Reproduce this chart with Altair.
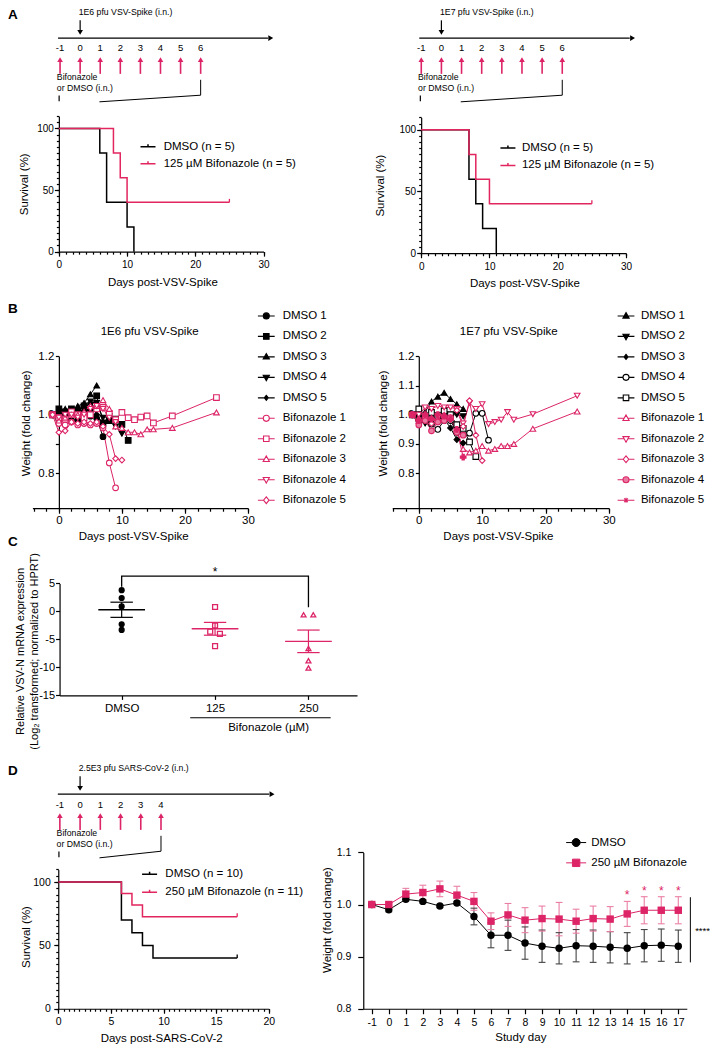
import math
import altair as alt
import pandas as pd

FONT = "Liberation Sans, Arial, Helvetica, sans-serif"
BLACK = "#000000"
PINK = "#dc2467"
RED = "#e2265f"
PINK_BAR = "#ea7fa4"
PINK_FILL = "#e9799f"
GREY = "#444444"
W, H = 702, 1036
SX = 702 / 708.0
SY = 1036 / 1049.0

# ------------------------------------------------------------------ DATA
# Panel A: Kaplan-Meier survival (1E6 left, 1E7 right)
A_GROUPS = ["DMSO (n = 5)", "125 µM Bifonazole (n = 5)"]
a1_dmso_day = [0, 6, 7, 10, 11]
a1_dmso_surv = [100, 80, 40, 20, 0]
a1_bif_day = [0, 8, 9, 10, 25]
a1_bif_surv = [100, 80, 60, 40, 40]
a2_dmso_day = [0, 7, 8, 9, 11]
a2_dmso_surv = [100, 60, 40, 20, 0]
a2_bif_day = [0, 7, 8, 10, 25]
a2_bif_surv = [100, 80, 60, 40, 40]

# treatment schedules (days of intranasal dosing)
tl_a_days = [-1, 0, 1, 2, 3, 4, 5, 6]
tl_d_days = [-1, 0, 1, 2, 3, 4]

# Panel B: individual weight curves
B_NAMES = ["DMSO 1", "DMSO 2", "DMSO 3", "DMSO 4", "DMSO 5",
           "Bifonazole 1", "Bifonazole 2", "Bifonazole 3", "Bifonazole 4", "Bifonazole 5"]
LONG_DAYS = [-1, 0, 1, 2, 3, 4, 5, 6, 7, 8, 9, 10, 11, 12, 13, 14, 15, 18, 25]
b1_data = {
    "DMSO 1": ([-1, 0, 1, 2, 3, 4, 5, 6, 7],
               [1.0, 0.983, 0.99, 0.98, 0.982, 1.01, 0.995, 0.988, 0.925]),
    "DMSO 2": ([-1, 0, 1, 2, 3, 4, 5, 6, 7, 8, 9, 10, 11],
               [1.0, 1.02, 1.01, 1.02, 1.01, 1.03, 1.02, 1.065, 0.972, 0.98, 0.985, 0.967, 0.912]),
    "DMSO 3": ([-1, 0, 1, 2, 3, 4, 5, 6],
               [1.0, 1.01, 1.02, 1.015, 1.03, 1.04, 1.07, 1.1]),
    "DMSO 4": ([-1, 0, 1, 2, 3, 4, 5, 6, 7, 8, 9, 10],
               [1.0, 1.0, 0.995, 1.0, 1.0, 1.02, 1.045, 1.04, 0.99, 0.995, 0.96, 0.935]),
    "DMSO 5": ([-1, 0, 1, 2, 3, 4, 5, 6, 7],
               [1.0, 1.005, 1.01, 1.005, 1.02, 1.025, 1.04, 1.0, 0.97]),
    "Bifonazole 1": ([-1, 0, 1, 2, 3, 4, 5, 6, 7, 8, 9],
                     [1.0, 0.97, 0.965, 0.975, 0.965, 0.97, 0.965, 0.97, 0.955, 0.835, 0.75]),
    "Bifonazole 2": (LONG_DAYS,
                     [1.0, 0.99, 0.985, 1.01, 1.0, 0.99, 1.0, 1.02, 1.025, 1.005, 0.983, 1.008,
                      0.99, 0.983, 0.992, 0.996, 0.972, 0.996, 1.059]),
    "Bifonazole 3": (LONG_DAYS,
                     [1.0, 0.98, 0.99, 1.0, 1.0, 1.01, 1.03, 1.03, 1.05, 1.02, 0.96, 0.955,
                      0.94, 0.94, 0.933, 0.95, 0.95, 0.955, 1.008]),
    "Bifonazole 4": ([-1, 0, 1, 2, 3, 4, 5, 6, 7, 8, 9],
                     [1.0, 0.99, 1.0, 1.0, 0.99, 1.0, 1.02, 1.03, 1.02, 0.99, 0.975]),
    "Bifonazole 5": ([-1, 0, 1, 2, 3, 4, 5, 6, 7, 8, 9, 10],
                     [1.0, 0.94, 0.945, 0.975, 0.97, 0.975, 0.97, 0.975, 0.96, 0.933, 0.85, 0.845]),
}
b2_data = {
    "DMSO 1": ([-1, 0, 1, 2, 3, 4, 5, 6, 7],
               [1.0, 1.0, 1.01, 1.045, 1.062, 1.075, 1.054, 1.036, 1.02]),
    "DMSO 2": ([-1, 0, 1, 2, 3, 4, 5, 6, 7],
               [1.0, 0.99, 0.97, 0.995, 0.995, 1.0, 1.0, 1.0, 0.995]),
    "DMSO 3": ([-1, 0, 1, 2, 3, 4, 5, 6, 7],
               [1.0, 0.98, 0.975, 0.97, 0.99, 0.985, 0.955, 0.915, 0.903]),
    "DMSO 4": ([-1, 0, 1, 2, 3, 4, 5, 6, 7, 8, 9, 10, 11],
               [1.0, 0.98, 0.98, 0.968, 0.95, 0.98, 0.98, 0.94, 0.94, 0.937, 1.005, 1.005, 0.913]),
    "DMSO 5": ([-1, 0, 1, 2, 3, 4, 5, 6, 7, 8, 9],
               [1.0, 1.02, 0.983, 1.008, 0.997, 1.013, 1.0, 0.966, 0.953, 0.907, 0.857]),
    "Bifonazole 1": (LONG_DAYS,
                     [1.0, 0.99, 1.0, 0.99, 0.99, 1.0, 0.99, 0.95, 0.883, 0.871, 0.877, 0.893,
                      0.877, 0.883, 0.893, 0.893, 0.9, 0.952, 1.011]),
    "Bifonazole 2": (LONG_DAYS,
                     [1.0, 1.0, 1.025, 1.02, 1.03, 1.025, 1.025, 1.02, 0.97, 1.04, 1.02, 1.036,
                      0.968, 0.975, 0.983, 1.009, 0.983, 1.002, 1.065]),
    "Bifonazole 3": ([-1, 0, 1, 2, 3, 4, 5, 6, 7, 8, 9, 10],
                     [1.0, 0.97, 0.99, 0.97, 0.98, 0.98, 0.985, 1.015, 0.96, 1.048, 0.93, 0.843]),
    "Bifonazole 4": ([-1, 0, 1, 2, 3, 4, 5, 6, 7],
                     [1.0, 0.965, 0.98, 0.945, 0.975, 0.98, 0.99, 0.94, 0.93]),
    "Bifonazole 5": ([-1, 0, 1, 2, 3, 4, 5, 6, 7],
                     [1.0, 0.98, 1.0, 0.985, 1.0, 0.995, 0.985, 0.95, 0.855]),
}

# Panel C: relative VSV-N mRNA (log2)
c_groups = ["DMSO", "125", "250"]
c_dmso = [3.8, 2.4, 0.9, -2.3, -3.3]
c_125 = [0.8, -2.5, -3.6, -4.0, -6.2]
c_250 = [-0.6, -0.6, -6.6, -8.8, -10.1]
c_dmso_slot = [0, 0, 0, 0, 0]
c_125_slot = [0, 0, -1, 1, 0]
c_250_slot = [-1, 1, 0, 0, 0]

# Panel D: SARS-CoV-2 survival and mean weight
D_GROUPS = ["DMSO (n = 10)", "250 µM Bifonazole (n = 11)"]
d_dmso_day = [0, 6, 7, 8, 9, 17]
d_dmso_surv = [100, 70, 60, 50, 40, 40]
d_bif_day = [0, 6, 7, 8, 17]
d_bif_surv = [100, 90.9, 81.8, 72.7, 72.7]

DW_GROUPS = ["DMSO", "250 µM Bifonazole"]
dw_days = [-1, 0, 1, 2, 3, 4, 5, 6, 7, 8, 9, 10, 11, 12, 13, 14, 15, 16, 17]
dw_dmso_mean = [1.000, 0.990, 1.010, 1.006, 0.997, 1.003, 0.977, 0.941, 0.941, 0.926,
                0.920, 0.916, 0.921, 0.920, 0.918, 0.916, 0.921, 0.922, 0.920]
dw_dmso_err = [0.001, 0.004, 0.003, 0.003, 0.003, 0.003, 0.016, 0.024, 0.029, 0.031,
               0.031, 0.030, 0.031, 0.031, 0.030, 0.030, 0.031, 0.031, 0.031]
dw_bif_mean = [1.000, 1.000, 1.020, 1.023, 1.030, 1.018, 1.006, 0.968, 0.980, 0.970,
               0.973, 0.972, 0.968, 0.973, 0.972, 0.982, 0.989, 0.989, 0.989]
dw_bif_err = [0.002, 0.003, 0.011, 0.014, 0.015, 0.017, 0.017, 0.016, 0.022, 0.024,
              0.024, 0.032, 0.023, 0.024, 0.024, 0.024, 0.026, 0.026, 0.026]
dw_star_days = [14, 15, 16, 17]

PANEL_LETTERS = ["A", "B", "C", "D"]


# ------------------------------------------------------------------ HELPERS
def PX(v):
    return (v - 8) * SX


def PY(v):
    return (v - 4) * SY


def xscale(d0, d1, p0, p1):
    return alt.Scale(domain=[d0, d1], range=[PX(p0), PX(p1)], nice=False, zero=False)


def yscale(d0, d1, p0, p1):
    return alt.Scale(domain=[d0, d1], range=[PY(p0), PY(p1)], nice=False, zero=False)


AX = dict(grid=False, labelFont=FONT, titleFont=FONT, labelColor=BLACK, titleColor=BLACK,
          tickColor=BLACK, domainColor=BLACK, domainWidth=1.2, tickWidth=1.2,
          labelFlush=False, labelOverlap=False, labelBound=False,
          titleFontWeight="normal", titleFontSize=11.5)

MINUS = "datum.value < 0 ? '-' + (-datum.value) : '' + datum.value"


def bottom_axis(y_page, values, tick=4.0, labels=True, domain=True, font=10.5, pad=3.0,
                title=None, tx=None, ty=None, expr=None, fmt=None):
    kw = dict(AX)
    kw.update(orient="bottom", offset=PY(y_page) - H, values=values, tickSize=tick,
              labels=labels, domain=domain, labelFontSize=font, labelPadding=pad, title=title)
    if expr is not None:
        kw["labelExpr"] = expr
    if fmt is not None:
        kw["format"] = fmt
    if title is not None:
        kw.update(titleX=PX(tx), titleY=PY(ty) - PY(y_page), titleAlign="center",
                  titleBaseline="middle", titleAngle=0)
    return alt.Axis(**kw)


def left_axis(x_page, values, tick=4.0, labels=True, domain=True, font=10.5, pad=1.5,
              title=None, tx=None, ty=None, expr=None, fmt=None, line_height=None,
              title_font=11.5):
    kw = dict(AX)
    kw.update(orient="left", offset=-PX(x_page), values=values, tickSize=tick,
              labels=labels, domain=domain, labelFontSize=font, labelPadding=pad, title=title,
              titleFontSize=title_font)
    if expr is not None:
        kw["labelExpr"] = expr
    if fmt is not None:
        kw["format"] = fmt
    if title is not None:
        kw.update(titleX=PX(tx) - PX(x_page), titleY=PY(ty), titleAlign="center",
                  titleBaseline="middle", titleAngle=270)
        if line_height is not None:
            kw["titleLineHeight"] = line_height
    return alt.Axis(**kw)


def ghost(xsc, ysc, x0, y0, xaxis=None, yaxis=None):
    df = pd.DataFrame({"gx": [x0], "gy": [y0]})
    return alt.Chart(df).mark_point(opacity=0).encode(
        x=alt.X("gx:Q", scale=xsc, axis=xaxis), y=alt.Y("gy:Q", scale=ysc, axis=yaxis))


def make_legend(center_x, c0, pitch, size, sw, label_x, symbol_type=None, font=11.5,
                dy=0.0, dp=0.0):
    S = max(math.ceil(math.sqrt(size) + sw), font)
    lx = PX(center_x) - S / 2.0
    ly = PY(c0) - S / 2.0 - 4.7 + dy
    rp = pitch * SY - S / 2.0 - 5.75 + dp
    kw = dict(title=None, orient="none", legendX=lx, legendY=ly, direction="vertical",
              symbolSize=size, symbolStrokeWidth=sw, symbolOpacity=1, labelFont=FONT,
              labelFontSize=font, labelColor=BLACK, labelOffset=PX(label_x) - lx - S,
              rowPadding=rp, padding=0, offset=0, labelLimit=600)
    if symbol_type is not None:
        kw["symbolType"] = symbol_type
    return alt.Legend(**kw)


# legend glyphs: a line with the marker in its middle (unit square, y down)
G_CIRCLE = "M-1,0H-0.36M0.36,0H1M-0.36,0A0.36,0.36,0,1,0,0.36,0A0.36,0.36,0,1,0,-0.36,0Z"
G_SQUARE = "M-1,0H-0.33M0.33,0H1M-0.33,-0.33H0.33V0.33H-0.33Z"
G_TUP = "M-1,0H-0.22M0.22,0H1M0,-0.4L0.37,0.26L-0.37,0.26Z"
G_TDOWN = "M-1,0H-0.22M0.22,0H1M0,0.4L0.37,-0.26L-0.37,-0.26Z"
G_DIAMOND = "M-1,0H-0.33M0.33,0H1M0,-0.4L0.33,0L0,0.4L-0.33,0Z"
G_SDIAMOND = "M-1,0H-0.24M0.24,0H1M0,-0.3L0.24,0L0,0.3L-0.24,0Z"
G_STAR = "M-1,0H1M0,-0.3V0.3M-0.22,-0.22L0.22,0.22M0.22,-0.22L-0.22,0.22"
G_CIRCLE_D = "M-1,0H-0.4M0.4,0H1M-0.4,0A0.4,0.4,0,1,0,0.4,0A0.4,0.4,0,1,0,-0.4,0Z"
G_SQUARE_D = "M-1,0H-0.37M0.37,0H1M-0.37,-0.37H0.37V0.37H-0.37Z"
G_KM = "M-1,0H1M0,0V-0.33"


# ------------------------------------------------------------------ SCHEMATIC
def schematic(days, p_lo, p_hi, top, infect_text, infect_y):
    end = days[-1]
    n = len(days)
    xsc = xscale(-1, end, p_lo, p_hi)
    ysc = yscale(0, 100, top, top + 100)

    def X(f):
        return alt.X(f, type="quantitative", scale=xsc, axis=None)

    def Y(f):
        return alt.Y(f, type="quantitative", scale=ysc, axis=None)

    out = []
    base = pd.DataFrame({"x": [-1.1], "x2": [9.35], "y": [34.5]})
    out.append(alt.Chart(base).mark_rule(color=BLACK, strokeWidth=1.3).encode(
        x=X("x"), x2=alt.X2("x2"), y=Y("y")))
    heads = pd.DataFrame({"x": [9.49, 0.0] + days,
                          "y": [34.5, 28.7] + [56.3] * n,
                          "shape": ["triangle-right", "triangle-down"] + ["triangle-up"] * n,
                          "c": [BLACK, BLACK] + [PINK] * n})
    out.append(alt.Chart(heads).mark_point(filled=True, size=32, opacity=1).encode(
        x=X("x"), y=Y("y"), shape=alt.Shape("shape:N", scale=None),
        color=alt.Color("c:N", scale=None)))
    shafts = pd.DataFrame({"x": [0.0] + days + [-1.046],
                           "y": [16.5] + [70.7] * n + [92.7],
                           "y2": [27.5] + [58.3] * n + [98.3],
                           "c": [BLACK] + [PINK] * n + [BLACK],
                           "w": [1.2] + [1.6] * n + [1.2]})
    out.append(alt.Chart(shafts).mark_rule().encode(
        x=X("x"), y=Y("y"), y2=alt.Y2("y2"), color=alt.Color("c:N", scale=None),
        strokeWidth=alt.StrokeWidth("w:Q", scale=None)))
    bracket = pd.DataFrame({"x": [0.96, end, end], "y": [99.0, 92.3, 76.7], "o": [0, 1, 2]})
    out.append(alt.Chart(bracket).mark_line(color=BLACK, strokeWidth=1.0).encode(
        x=X("x"), y=Y("y"), order=alt.Order("o:Q")))
    nums = pd.DataFrame({"x": days, "y": [45.0] * n, "t": [str(d) for d in days]})
    out.append(alt.Chart(nums).mark_text(font=FONT, fontSize=9.5, color=BLACK, align="center",
                                         baseline="middle").encode(x=X("x"), y=Y("y"), text="t:N"))
    labs = pd.DataFrame({"x": [-0.07, -1.16, -1.16], "y": [infect_y, 74.0, 85.0],
                         "t": [infect_text, "Bifonazole", "or DMSO (i.n.)"]})
    out.append(alt.Chart(labs).mark_text(font=FONT, fontSize=8.7, color=BLACK, align="left",
                                         baseline="middle").encode(x=X("x"), y=Y("y"), text="t:N"))
    return out


# ------------------------------------------------------------------ SURVIVAL
CENSOR = "M0,0L0,-1"


def survival(groups, series, colors, xd, xr, yr, ax_y, ax_x, x_major, x_minor, y_minor,
             tick_font, xpad, ypad, xt, yt, xtitle, leg):
    xsc = xscale(xd[0], xd[1], xr[0], xr[1])
    ysc = yscale(0, 110, yr[0], yr[1])
    rows = []
    for g, (days, surv) in zip(groups, series):
        for d, s in zip(days, surv):
            rows.append({"group": g, "day": d, "surv": s})
    df = pd.DataFrame(rows)
    last = df.groupby("group", sort=False).tail(1)
    cens = last[last["surv"] > 0]
    cscale = alt.Scale(domain=groups, range=colors)
    out = [
        ghost(xsc, ysc, xd[0], 0,
              xaxis=bottom_axis(ax_y, x_minor, tick=2.5, labels=False, domain=False)),
        ghost(xsc, ysc, xd[0], 0,
              yaxis=left_axis(ax_x, y_minor, tick=2.5, labels=False, domain=False)),
        alt.Chart(df).mark_line(interpolate="step-after", strokeWidth=1.5).encode(
            x=alt.X("day:Q", scale=xsc,
                    axis=bottom_axis(ax_y, x_major, tick=4.5, font=tick_font, pad=xpad,
                                     title=xtitle, tx=xt[0], ty=xt[1])),
            y=alt.Y("surv:Q", scale=ysc,
                    axis=left_axis(ax_x, [0, 50, 100], tick=4.5, font=tick_font, pad=ypad,
                                   title="Survival (%)", tx=yt[0], ty=yt[1])),
            color=alt.Color("group:N", scale=cscale, legend=leg)),
        alt.Chart(cens).mark_point(shape=CENSOR, size=49, strokeWidth=1.3, filled=False,
                                   opacity=1).encode(
            x=alt.X("day:Q", scale=xsc, axis=None), y=alt.Y("surv:Q", scale=ysc, axis=None),
            color=alt.Color("group:N", scale=cscale, legend=None)),
    ]
    return out


# ------------------------------------------------------------------ WEIGHT PANELS (B)
def weight_panel(names, data, shapes, glyphs, strokes, fills, xr, ax_x, ylabels, title,
                 title_pos, xt, yt, leg_cx, leg_lx):
    xsc = xscale(-4.2, 30, xr[0], xr[1])
    ysc = yscale(0.68, 1.2, 510.5, 356.7)
    rows = []
    for nme in names:
        days, vals = data[nme]
        for d, v in zip(days, vals):
            rows.append({"series": nme, "day": d, "w": v})
    df = pd.DataFrame(rows)
    cond = " || ".join("abs(datum.value - %s) < 0.0001" % v for v in ylabels)
    yexpr = "(%s) ? format(datum.value, '.1f') : ''" % cond
    xminor = list(range(-4, 31, 2))
    leg = make_legend(leg_cx, 316.0, 20.48, 282, 1.1, leg_lx, dy=4.5)
    leg_df = pd.DataFrame({"series": names, "day": [0] * len(names), "w": [1.0] * len(names)})
    out = [
        ghost(xsc, ysc, 0, 1.0, xaxis=bottom_axis(510.5, xminor, tick=3, labels=False,
                                                  domain=False)),
        alt.Chart(df).mark_line(strokeWidth=1.0).encode(
            x=alt.X("day:Q", scale=xsc,
                    axis=bottom_axis(510.5, [0, 10, 20, 30], tick=5, font=11.5, pad=1.5,
                                     title="Days post-VSV-Spike", tx=xt[0], ty=xt[1])),
            y=alt.Y("w:Q", scale=ysc,
                    axis=left_axis(ax_x, [0.8, 0.9, 1.0, 1.1, 1.2], tick=3.5, font=11.5,
                                   pad=1.5, title="Weight (fold change)", tx=yt[0], ty=yt[1],
                                   expr=yexpr)),
            color=alt.Color("series:N", scale=alt.Scale(domain=names, range=strokes),
                            legend=None)),
        alt.Chart(df).mark_point(filled=True, size=32, strokeWidth=1.1, opacity=1).encode(
            x=alt.X("day:Q", scale=xsc, axis=None), y=alt.Y("w:Q", scale=ysc, axis=None),
            shape=alt.Shape("series:N", scale=alt.Scale(domain=names, range=shapes), legend=None),
            stroke=alt.Stroke("series:N", scale=alt.Scale(domain=names, range=strokes),
                              legend=None),
            fill=alt.Fill("series:N", scale=alt.Scale(domain=names, range=fills), legend=None)),
        # legend carrier (invisible marks, visible legend)
        alt.Chart(leg_df).mark_point(filled=True, size=282, strokeWidth=1.1, opacity=0).encode(
            x=alt.X("day:Q", scale=xsc, axis=None), y=alt.Y("w:Q", scale=ysc, axis=None),
            shape=alt.Shape("series:N", scale=alt.Scale(domain=names, range=glyphs), legend=leg),
            stroke=alt.Stroke("series:N", scale=alt.Scale(domain=names, range=strokes),
                              legend=leg),
            fill=alt.Fill("series:N", scale=alt.Scale(domain=names, range=fills), legend=leg)),
        alt.Chart(pd.DataFrame({"x": [title_pos[0]], "y": [title_pos[1]], "t": [title]}))
        .mark_text(font=FONT, fontSize=11.5, color=BLACK, align="center", baseline="middle")
        .encode(x=alt.X("x:Q", scale=xsc, axis=None), y=alt.Y("y:Q", scale=ysc, axis=None),
                text="t:N"),
    ]
    return out


# ------------------------------------------------------------------ BUILD
layers = []

# Panel A
layers += schematic(tl_a_days, 60.5, 202.3, 0, "1E6 pfu VSV-Spike (i.n.)", 8.0)
layers += schematic(tl_a_days, 424.8, 567.0, 0, "1E7 pfu VSV-Spike (i.n.)", 8.0)
layers += survival(A_GROUPS, [(a1_dmso_day, a1_dmso_surv), (a1_bif_day, a1_bif_surv)],
                   [BLACK, RED], (0, 30), (59.3, 265.7), (250.7, 113.5), 250.7, 59.3,
                   [0, 10, 20, 30], list(range(0, 31)), list(range(0, 111, 5)),
                   10, 3.5, 1.0, (163.7, 282.0), (25.0, 182.0), "Days post-VSV-Spike",
                   make_legend(149.2, 142.7, 18.3, 225, 1.5, 165.0, G_KM, dy=6.5, dp=-0.9))
layers += survival(A_GROUPS, [(a2_dmso_day, a2_dmso_surv), (a2_bif_day, a2_bif_surv)],
                   [BLACK, RED], (0, 30), (424.7, 631.3), (252.3, 114.8), 252.3, 424.7,
                   [0, 10, 20, 30], list(range(0, 31)), list(range(0, 111, 5)),
                   10, 3.5, 1.0, (528.8, 283.3), (384.0, 183.3), "Days post-VSV-Spike",
                   make_legend(512.2, 144.0, 18.7, 225, 1.5, 526.3, G_KM, dy=6.5, dp=-0.9))

# Panel B
b1_shapes = ["circle", "square", "triangle-up", "triangle-down", "diamond",
             "circle", "square", "triangle-up", "triangle-down", "diamond"]
b1_glyphs = [G_CIRCLE, G_SQUARE, G_TUP, G_TDOWN, G_SDIAMOND,
             G_CIRCLE, G_SQUARE, G_TUP, G_TDOWN, G_DIAMOND]
b1_fills = [BLACK] * 5 + ["white"] * 5
b2_shapes = ["triangle-up", "triangle-down", "diamond", "circle", "square",
             "triangle-up", "triangle-down", "diamond", "circle", "cross"]
b2_glyphs = [G_TUP, G_TDOWN, G_SDIAMOND, G_CIRCLE, G_SQUARE,
             G_TUP, G_TDOWN, G_DIAMOND, G_CIRCLE, G_STAR]
b2_fills = [BLACK, BLACK, BLACK, "white", "white", "white", "white", "white", PINK_FILL, PINK]
b_strokes = [BLACK] * 5 + [PINK] * 5
layers += weight_panel(B_NAMES, b1_data, b1_shapes, b1_glyphs, b_strokes, b1_fills,
                       (32.6, 250.0), 59.3, [0.8, 1.0, 1.2], "1E6 pfu VSV-Spike",
                       (14.4, 1.2825), (134.2, 539.3), (26.7, 424.0), 268.5, 285.0)
layers += weight_panel(B_NAMES, b2_data, b2_shapes, b2_glyphs, b_strokes, b2_fills,
                       (395.5, 614.0), 422.3, [0.8, 0.9, 1.0, 1.1, 1.2], "1E7 pfu VSV-Spike",
                       (14.2, 1.2825), (502.0, 539.3), (386.3, 424.2), 631.3, 646.3)

# Panel C
c_rows = []
for i, (g, vals, slots) in enumerate(zip(c_groups, [c_dmso, c_125, c_250],
                                         [c_dmso_slot, c_125_slot, c_250_slot])):
    for v, s in zip(vals, slots):
        c_rows.append({"group": g, "idx": i, "value": v, "slot": s})
cdf = pd.DataFrame(c_rows)
cx = xscale(-0.665, 2.52, 60, 360)
cy = yscale(-15, 5, 700, 586.7)
c_col = alt.Scale(domain=c_groups, range=[BLACK, PINK, PINK])
c_expr = "[" + ",".join("'%s'" % g for g in c_groups) + "][datum.value]"
layers.append(
    alt.Chart(cdf).transform_calculate(xp="datum.idx + datum.slot * 0.052")
    .mark_point(filled=True, size=24, strokeWidth=1.3, opacity=1).encode(
        x=alt.X("xp:Q", scale=cx,
                axis=bottom_axis(700, [0, 1, 2], tick=4, font=11.5, pad=3.5, expr=c_expr)),
        y=alt.Y("value:Q", scale=cy,
                axis=left_axis(60, [-15, -10, -5, 0, 5], tick=4, font=11, pad=1.0,
                               expr=MINUS,
                               title=["Relative VSV-N mRNA expression",
                                      "(Log₂ transformed; normalized to HPRT)"],
                               tx=20.5, ty=655.0, line_height=14.5, title_font=11)),
        shape=alt.Shape("group:N", scale=alt.Scale(domain=c_groups,
                                                   range=["circle", "square", "triangle-up"]),
                        legend=None),
        stroke=alt.Stroke("group:N", scale=c_col, legend=None),
        fill=alt.Fill("group:N", scale=alt.Scale(domain=c_groups,
                                                 range=[BLACK, "white", "white"]), legend=None)))
c_stats = (alt.Chart(cdf)
           .transform_aggregate(m="mean(value)", s="stderr(value)", groupby=["group", "idx"])
           .transform_calculate(xl="datum.idx - 0.25", xr="datum.idx + 0.25",
                                cl="datum.idx - 0.12", cr="datum.idx + 0.12",
                                lo="datum.m - datum.s", hi="datum.m + datum.s"))
layers.append(c_stats.mark_rule(strokeWidth=1.4).encode(
    x=alt.X("xl:Q", scale=cx, axis=None), x2=alt.X2("xr"), y=alt.Y("m:Q", scale=cy, axis=None),
    color=alt.Color("group:N", scale=c_col, legend=None)))
layers.append(c_stats.mark_rule(strokeWidth=1.2).encode(
    x=alt.X("idx:Q", scale=cx, axis=None), y=alt.Y("lo:Q", scale=cy, axis=None),
    y2=alt.Y2("hi"), color=alt.Color("group:N", scale=c_col, legend=None)))
layers.append(c_stats.transform_fold(["lo", "hi"], as_=["which", "capy"]).mark_rule(
    strokeWidth=1.2).encode(
    x=alt.X("cl:Q", scale=cx, axis=None), x2=alt.X2("cr"),
    y=alt.Y("capy:Q", scale=cy, axis=None),
    color=alt.Color("group:N", scale=c_col, legend=None)))
c_bracket = pd.DataFrame({"x": [0, 0, 2, 2], "y": [4.4, 6.3, 6.3, 0.76], "o": [0, 1, 2, 3]})
layers.append(alt.Chart(c_bracket).mark_line(color=BLACK, strokeWidth=1.3).encode(
    x=alt.X("x:Q", scale=cx, axis=None), y=alt.Y("y:Q", scale=cy, axis=None),
    order=alt.Order("o:Q")))
layers.append(alt.Chart(pd.DataFrame({"x": [1.0], "y": [7.1], "t": ["*"]})).mark_text(
    font=FONT, fontSize=12, color=BLACK, align="center", baseline="middle").encode(
    x=alt.X("x:Q", scale=cx, axis=None), y=alt.Y("y:Q", scale=cy, axis=None), text="t:N"))
layers.append(alt.Chart(pd.DataFrame({"x": [0.734], "x2": [2.238], "y": [-19.0]})).mark_rule(
    color=BLACK, strokeWidth=1.0).encode(
    x=alt.X("x:Q", scale=cx, axis=None), x2=alt.X2("x2"), y=alt.Y("y:Q", scale=cy, axis=None)))
layers.append(alt.Chart(pd.DataFrame({"x": [1.573], "y": [-20.8], "t": ["Bifonazole (µM)"]}))
              .mark_text(font=FONT, fontSize=11.5, color=BLACK, align="center",
                         baseline="middle").encode(
    x=alt.X("x:Q", scale=cx, axis=None), y=alt.Y("y:Q", scale=cy, axis=None), text="t:N"))

# Panel D
layers += schematic(tl_d_days, 60.3, 162.3, 765.5, "2.5E3 pfu SARS-CoV-2 (i.n.)", 7.8)
layers += survival(D_GROUPS, [(d_dmso_day, d_dmso_surv), (d_bif_day, d_bif_surv)],
                   [BLACK, RED], (0, 20), (58.7, 271.0), (1017.3, 876.2), 1017.3, 58.7,
                   [0, 5, 10, 15, 20], [i * 0.5 for i in range(41)], list(range(0, 111, 5)),
                   10.5, 3.5, 3.5, (162.5, 1047.5), (26.7, 944.2), "Days post-SARS-CoV-2",
                   make_legend(150.8, 879.3, 18.4, 225, 1.5, 166.7, G_KM, dy=6.5))

dw_rows = []
for g, means, errs in zip(DW_GROUPS, [dw_dmso_mean, dw_bif_mean], [dw_dmso_err, dw_bif_err]):
    for d, m, e in zip(dw_days, means, errs):
        dw_rows.append({"group": g, "day": d, "mean": m, "err": e})
dwdf = pd.DataFrame(dw_rows)
dx = xscale(-1.5, 17.5, 366.3, 692.6)
dy = yscale(0.8, 1.1, 1017.3, 859.0)
err_col = alt.Scale(domain=DW_GROUPS, range=[GREY, PINK_BAR])
main_col = alt.Scale(domain=DW_GROUPS, range=[BLACK, PINK])
err_base = (alt.Chart(dwdf)
            .transform_calculate(lo="datum.mean - datum.err", hi="datum.mean + datum.err",
                                 xl="datum.day - 0.2", xr="datum.day + 0.2"))
layers.append(err_base.mark_rule(strokeWidth=1.1).encode(
    x=alt.X("day:Q", scale=dx, axis=None), y=alt.Y("lo:Q", scale=dy, axis=None), y2=alt.Y2("hi"),
    color=alt.Color("group:N", scale=err_col, legend=None)))
layers.append(err_base.transform_fold(["lo", "hi"], as_=["which", "capy"]).mark_rule(
    strokeWidth=1.1).encode(
    x=alt.X("xl:Q", scale=dx, axis=None), x2=alt.X2("xr"), y=alt.Y("capy:Q", scale=dy, axis=None),
    color=alt.Color("group:N", scale=err_col, legend=None)))
layers.append(alt.Chart(dwdf).mark_line(strokeWidth=1.0).encode(
    x=alt.X("day:Q", scale=dx,
            axis=bottom_axis(1017.3, dw_days, tick=5, font=10.5, pad=4, expr=MINUS,
                             title="Study day", tx=524.7, ty=1046.5)),
    y=alt.Y("mean:Q", scale=dy,
            axis=left_axis(366.3, [0.8, 0.9, 1.0, 1.1], tick=5.5, font=10.5, pad=7, fmt=".1f",
                           title="Weight (fold change)", tx=330.0, ty=927.0)),
    color=alt.Color("group:N", scale=main_col, legend=None)))
layers.append(alt.Chart(dwdf).mark_point(filled=True, size=55, opacity=1).encode(
    x=alt.X("day:Q", scale=dx, axis=None), y=alt.Y("mean:Q", scale=dy, axis=None),
    shape=alt.Shape("group:N", scale=alt.Scale(domain=DW_GROUPS, range=["circle", "square"]),
                    legend=None),
    color=alt.Color("group:N", scale=main_col, legend=None)))
dleg = make_legend(581.0, 846.7, 21.0, 400, 1.0, 596.3, dy=7.0, dp=-1.2)
dleg_df = pd.DataFrame({"group": DW_GROUPS, "day": [0, 0], "mean": [1.0, 1.0]})
layers.append(alt.Chart(dleg_df).mark_point(filled=True, size=400, strokeWidth=1.0,
                                            opacity=0).encode(
    x=alt.X("day:Q", scale=dx, axis=None), y=alt.Y("mean:Q", scale=dy, axis=None),
    shape=alt.Shape("group:N", scale=alt.Scale(domain=DW_GROUPS, range=[G_CIRCLE_D, G_SQUARE_D]),
                    legend=dleg),
    stroke=alt.Stroke("group:N", scale=main_col, legend=dleg),
    fill=alt.Fill("group:N", scale=main_col, legend=dleg)))
stars = dwdf[(dwdf["group"] == DW_GROUPS[1]) & (dwdf["day"].isin(dw_star_days))]
layers.append(alt.Chart(stars).transform_calculate(top="datum.mean + datum.err").mark_text(
    font=FONT, fontSize=12, color=PINK, align="center", baseline="middle", dy=-6).encode(
    x=alt.X("day:Q", scale=dx, axis=None), y=alt.Y("top:Q", scale=dy, axis=None),
    text=alt.value("*")))
layers.append(alt.Chart(pd.DataFrame({"x": [17.71], "y": [0.889], "y2": [1.014]})).mark_rule(
    color=BLACK, strokeWidth=1.0).encode(
    x=alt.X("x:Q", scale=dx, axis=None), y=alt.Y("y:Q", scale=dy, axis=None), y2=alt.Y2("y2")))
layers.append(alt.Chart(pd.DataFrame({"x": [17.99], "y": [0.9495], "t": ["****"]})).mark_text(
    font=FONT, fontSize=9.5, color=BLACK, align="left", baseline="middle").encode(
    x=alt.X("x:Q", scale=dx, axis=None), y=alt.Y("y:Q", scale=dy, axis=None), text="t:N"))

# panel letters
page_x = xscale(0, 718, 0, 718)
page_y = yscale(0, 1056, 0, 1056)
letters = pd.DataFrame({"t": PANEL_LETTERS, "x": [13.0, 13.0, 13.0, 13.0],
                        "y": [11.5, 308.7, 545.0, 776.7]})
layers.append(alt.Chart(letters).mark_text(font=FONT, fontSize=13.5, fontWeight="bold",
                                           color=BLACK, align="center", baseline="middle").encode(
    x=alt.X("x:Q", scale=page_x, axis=None), y=alt.Y("y:Q", scale=page_y, axis=None),
    text="t:N"))

chart = alt.layer(*layers).resolve_scale(
    x="independent", y="independent", color="independent", fill="independent",
    stroke="independent", shape="independent", strokeWidth="independent",
    opacity="independent", size="independent"
).properties(
    width=W, height=H, padding=0, background="white",
    autosize=alt.AutoSizeParams(type="none")
).configure_view(stroke=None)

chart.save("out.html", embed_options={"renderer": "svg", "actions": False})
